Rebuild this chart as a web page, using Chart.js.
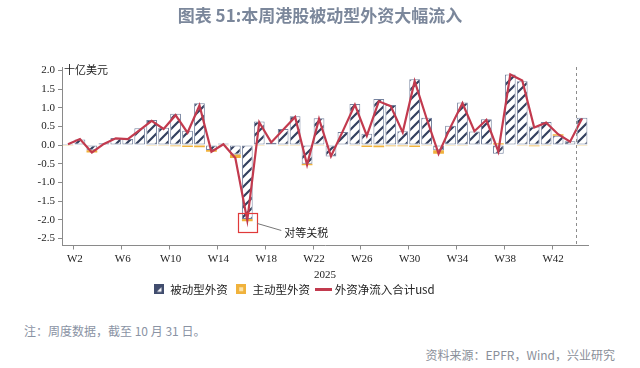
<!DOCTYPE html>
<html><head><meta charset="utf-8">
<script src="https://cdn.jsdelivr.net/npm/chart.js@4.4.1/dist/chart.umd.min.js"></script>
<style>
html,body{margin:0;padding:0;background:#fff;}
body{width:640px;height:368px;overflow:hidden;position:relative;font-family:"Noto Sans CJK SC","Noto Sans",sans-serif;}
#title{position:absolute;left:0;top:4px;width:640px;text-align:center;font-size:17px;font-weight:bold;color:#7b879b;line-height:22px;}
#wrap{position:absolute;left:0;top:0;width:640px;height:305px;}
#note{position:absolute;left:24px;top:322px;font-size:12px;color:#8a93a4;line-height:18px;}
#src{position:absolute;right:25px;top:346px;font-size:12px;color:#8a8f99;line-height:18px;}
</style></head><body>
<div id="wrap"><canvas id="c"></canvas></div>
<div id="title">图表 51:本周港股被动型外资大幅流入</div>
<div id="note">注：周度数据，截至 10 月 31 日。</div>
<div id="src">资料来源：EPFR，Wind，兴业研究</div>
<script>
// ---- data ----
const weeks = ['W1','W2','W3','W4','W5','W6','W7','W8','W9','W10','W11','W12','W13','W14','W15','W16','W17','W18','W19','W20','W21','W22','W23','W24','W25','W26','W27','W28','W29','W30','W31','W32','W33','W34','W35','W36','W37','W38','W39','W40','W41','W42','W43','W44'];
const xTickLabels = ['W2','W6','W10','W14','W18','W22','W26','W30','W34','W38','W42'];
const yTickValues = [2.0,1.5,1.0,0.5,0.0,-0.5,-1.0,-1.5,-2.0,-2.5];
const passive = [0.03,0.15,-0.14,0.05,0.19,0.16,0.45,0.67,0.46,0.84,0.38,1.12,-0.13,0.04,-0.25,-1.98,0.63,0.06,0.43,0.77,-0.50,0.72,-0.31,0.35,1.10,0.30,1.23,1.07,0.37,1.76,0.73,-0.14,0.52,1.14,0.36,0.69,-0.23,1.89,1.71,0.50,0.62,0.25,0.10,0.73];
const active = [-0.02,0,-0.06,-0.01,-0.01,0,-0.01,-0.02,-0.02,-0.03,-0.05,-0.06,-0.05,-0.02,-0.10,-0.06,-0.02,0,-0.02,-0.02,-0.04,-0.02,0,0,-0.02,-0.05,-0.06,-0.03,-0.03,-0.05,-0.02,-0.09,-0.02,-0.02,0,-0.01,0.05,0,-0.02,-0.03,-0.02,0.04,0,-0.02];
const total = [0.02,0.16,-0.20,0.03,0.18,0.16,0.40,0.65,0.43,0.80,0.33,1.06,-0.18,0.02,-0.35,-2.02,0.61,0.07,0.41,0.75,-0.53,0.70,-0.30,0.38,1.08,0.25,1.17,1.04,0.34,1.71,0.71,-0.23,0.48,1.12,0.37,0.67,-0.17,1.89,1.73,0.47,0.60,0.29,0.09,0.71];
const seriesNames = ['外资净流入合计usd','被动型外资','主动型外资'];
const unitLabel = '十亿美元';
const annotationText = '对等关税';
const annotationWeek = 'W16';
const dividerAfterWeek = 'W43';

// ---- styles ----
const NAVY = '#34405f', BORDER = '#75829e', ORANGE = '#f0b23c', RED = '#c23a4e', AXIS = '#8a8a8a';
const CJK = '"Noto Sans CJK SC", sans-serif';
const SERIF = '"Liberation Serif", "DejaVu Serif", serif';

function makeHatch() {
  const n = 10;
  const pc = document.createElement('canvas'); pc.width = n; pc.height = n;
  const g = pc.getContext('2d');
  g.fillStyle = '#fff'; g.fillRect(0,0,n,n);
  g.strokeStyle = NAVY; g.lineWidth = 2.2;
  g.beginPath();
  g.moveTo(-1,n+1); g.lineTo(n+1,-1);
  g.moveTo(-n/2-1,n/2+1); g.lineTo(n/2+1,-n/2-1);
  g.moveTo(n/2-1,n*1.5+1); g.lineTo(n*1.5+1,n/2-1);
  g.stroke();
  return document.getElementById('c').getContext('2d').createPattern(pc,'repeat');
}
function iconPassive(){
  const c=document.createElement('canvas');c.width=10;c.height=10;const g=c.getContext('2d');
  g.fillStyle='#414d6e';g.fillRect(0,0,10,10);
  g.fillStyle='#fff';g.beginPath();g.moveTo(3,7.5);g.lineTo(7.5,3);g.lineTo(7.5,7.5);g.closePath();g.fill();
  return c;
}
function iconActive(){
  const c=document.createElement('canvas');c.width=10;c.height=10;const g=c.getContext('2d');
  g.fillStyle=ORANGE;g.fillRect(0,0,10,10);
  g.fillStyle='#fbe2a8';g.fillRect(3,3,4,4);
  return c;
}
function iconLine(){
  const c=document.createElement('canvas');c.width=17;c.height=3;const g=c.getContext('2d');
  g.fillStyle=RED;g.fillRect(0,0,17,3);
  return c;
}
const icons = [iconLine(), iconPassive(), iconActive()];
const legendRank = [2,0,1];

const extras = {
  id: 'extras',
  afterDatasetsDraw(chart) {
    const {ctx, chartArea, scales:{x,y}} = chart;
    ctx.save();
    // dashed divider
    const i = weeks.indexOf(dividerAfterWeek);
    const dx = Math.round((x.getPixelForValue(i) + x.getPixelForValue(i+1))/2) + 0.5;
    ctx.strokeStyle = '#8c8c8c'; ctx.lineWidth = 1; ctx.setLineDash([3,3]);
    ctx.beginPath(); ctx.moveTo(dx, chartArea.top); ctx.lineTo(dx, chartArea.bottom); ctx.stroke();
    ctx.setLineDash([]);
    // unit label
    ctx.fillStyle = '#222'; ctx.font = '11px ' + CJK; ctx.textBaseline = 'middle'; ctx.textAlign = 'left';
    ctx.fillText(unitLabel, chartArea.left + 2, y.getPixelForValue(yTickValues[0]) - 0.5);
    // annotation
    const k = weeks.indexOf(annotationWeek);
    const cx = x.getPixelForValue(k), cy = y.getPixelForValue(total[k]);
    ctx.strokeStyle = '#e03a3a'; ctx.lineWidth = 1.2;
    ctx.strokeRect(Math.round(cx - 9.5)+0.5, Math.round(cy - 7)+0.5, 19, 19);
    ctx.strokeStyle = '#777'; ctx.lineWidth = 1;
    ctx.beginPath(); ctx.moveTo(cx + 10, cy + 3); ctx.lineTo(cx + 34, cy + 10); ctx.stroke();
    ctx.fillStyle = '#222'; ctx.font = '11px ' + CJK;
    ctx.fillText(annotationText, cx + 37, cy + 12);
    ctx.restore();
  }
};

const hatch = makeHatch();
new Chart(document.getElementById('c'), {
  data: {
    labels: weeks,
    datasets: [
      { type:'line', label: seriesNames[0], data: total, borderColor: RED, backgroundColor: RED, borderWidth: 2.2,
        pointRadius: 0, tension: 0, stack: 'total', order: 0 },
      { type:'bar', label: seriesNames[1], data: passive, backgroundColor: hatch, borderColor: BORDER, borderWidth: 1,
        borderSkipped: false, stack: 'bars', order: 1, barPercentage: 0.9, categoryPercentage: 1.0 },
      { type:'bar', label: seriesNames[2], data: active, backgroundColor: ORANGE, borderWidth: 0,
        stack: 'bars', order: 2, barPercentage: 0.9, categoryPercentage: 1.0 }
    ]
  },
  options: {
    responsive: true, maintainAspectRatio: false, animation: false, devicePixelRatio: 1,
    layout: { padding: { top: 67, right: 52, left: 0, bottom: 0 } },
    plugins: {
      tooltip: { enabled: false },
      legend: {
        position: 'bottom',
        labels: {
          usePointStyle: true, boxWidth: 11, boxHeight: 11, padding: 8, color: '#222',
          font: { family: CJK, size: 11.5 },
          generateLabels(chart) {
            const items = Chart.defaults.plugins.legend.labels.generateLabels(chart);
            items.forEach(it => { it.pointStyle = icons[it.datasetIndex]; });
            return items;
          },
          sort: (a, b) => legendRank[a.datasetIndex] - legendRank[b.datasetIndex]
        }
      }
    },
    scales: {
      x: {
        stacked: true, offset: true,
        grid: { display: true, drawOnChartArea: false, offset: true, tickLength: 4,
                tickColor: c => (c.index % 4 === 1 ? AXIS : 'rgba(0,0,0,0)') },
        border: { display: true, color: AXIS, width: 1 },
        ticks: { autoSkip: false, maxRotation: 0, padding: 3, labelOffset: -5, color: '#222',
                 font: { family: SERIF, size: 11 },
                 callback: (v, i) => (xTickLabels.includes(weeks[i]) ? weeks[i] : '') },
        title: { display: true, text: '2025', color: '#222', font: { family: SERIF, size: 11 },
                 padding: { top: 0, bottom: -6 } },
        afterFit: s => { s.height = 30; }
      },
      y: {
        stacked: true, min: -2.69, max: 2.09,
        afterBuildTicks: s => { s.ticks = yTickValues.map(v => ({ value: v })); },
        grid: { display: true, drawOnChartArea: false, tickLength: 4, color: AXIS },
        border: { display: true, color: AXIS, width: 1 },
        ticks: { padding: 3, color: '#222', font: { family: SERIF, size: 11 },
                 callback: v => Number(v).toFixed(1) },
        afterFit: s => { s.width = 62; }
      }
    }
  },
  plugins: [extras]
});
</script>
</body></html>
